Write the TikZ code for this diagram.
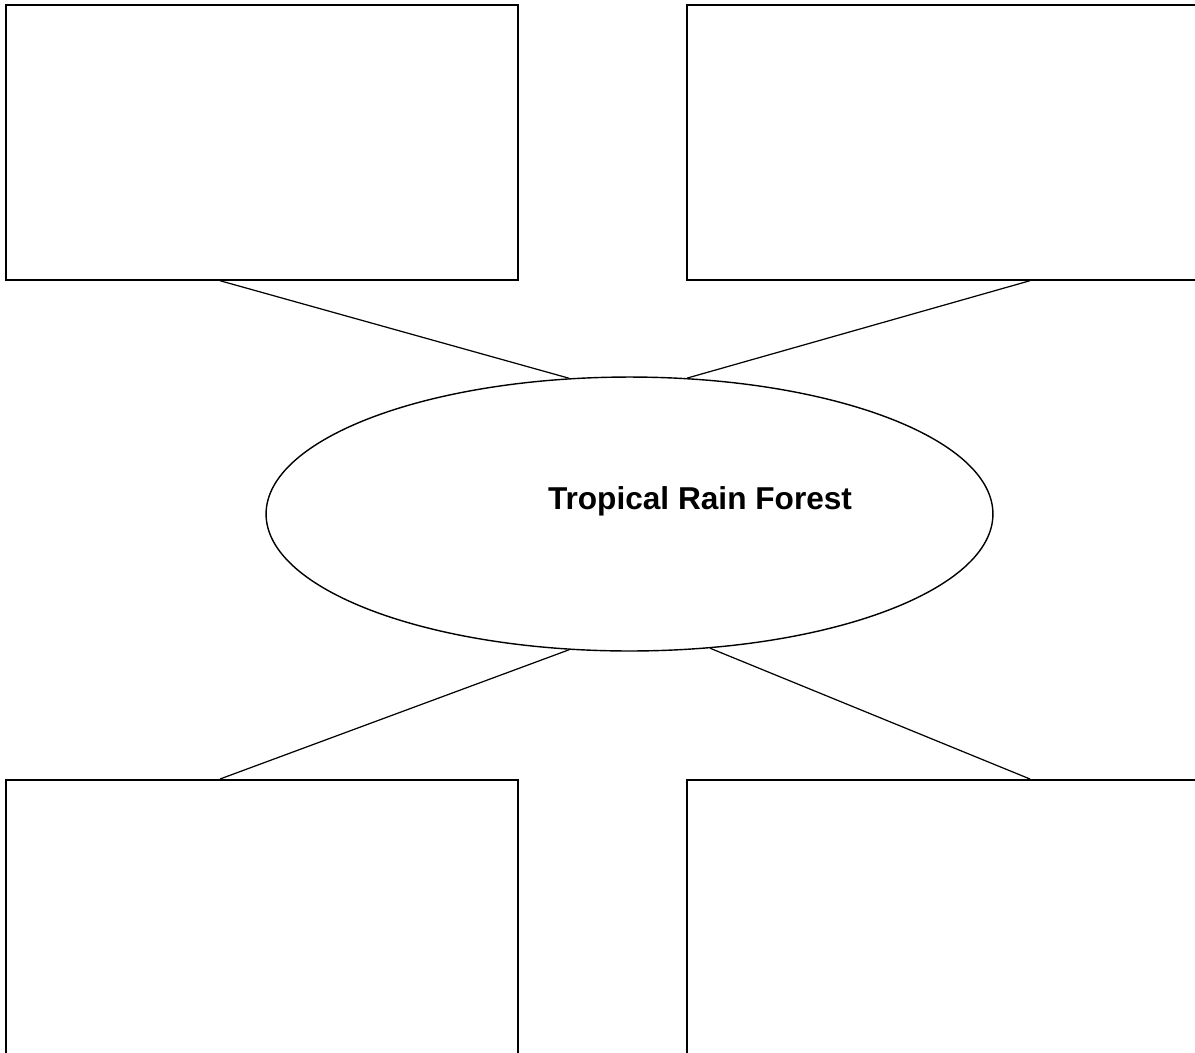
\documentclass[tikz,border=0pt]{standalone}
\usepackage{fontspec}
\newfontfamily\labelfont{Liberation Sans}
\usetikzlibrary{shapes.geometric, calc}

\begin{document}
\begin{tikzpicture}[
    x=0.02cm, y=-0.02cm,
    cbox/.style={draw, line width=1pt, minimum width=10.24cm, minimum height=5.5cm,
                 inner sep=0pt, anchor=north west},
    hub/.style={draw, ellipse, line width=0.8pt, minimum width=14.54cm,
                minimum height=5.48cm, inner sep=0pt},
    link/.style={line width=0.7pt},
]
    \clip (0,0) rectangle (1195,1052);

    %==================== BOXES ====================
    \node[cbox] (tl) at (5,4) {};
    \node[cbox] (tr) at (686,4) {};
    \node[cbox] (bl) at (5,779) {};
    \node[cbox] (br) at (686,779) {};

    %==================== CENTRE ====================
    \node[hub] (forest) at (629.5,514) {};
    \node[font=\labelfont\bfseries\fontsize{18}{21}\selectfont] (title) at (700,501)
        {Tropical Rain Forest};

    %==================== LINKS ====================
    \draw[link] ($(tl.south west)+(215,0)$) -- (forest.114);
    \draw[link] ($(tr.south west)+(344,0)$) -- (forest.67);
    \draw[link] ($(bl.north west)+(215,0)$) -- (forest.246);
    \draw[link] ($(br.north west)+(344,0)$) -- (forest.301);

\end{tikzpicture}
\end{document}
